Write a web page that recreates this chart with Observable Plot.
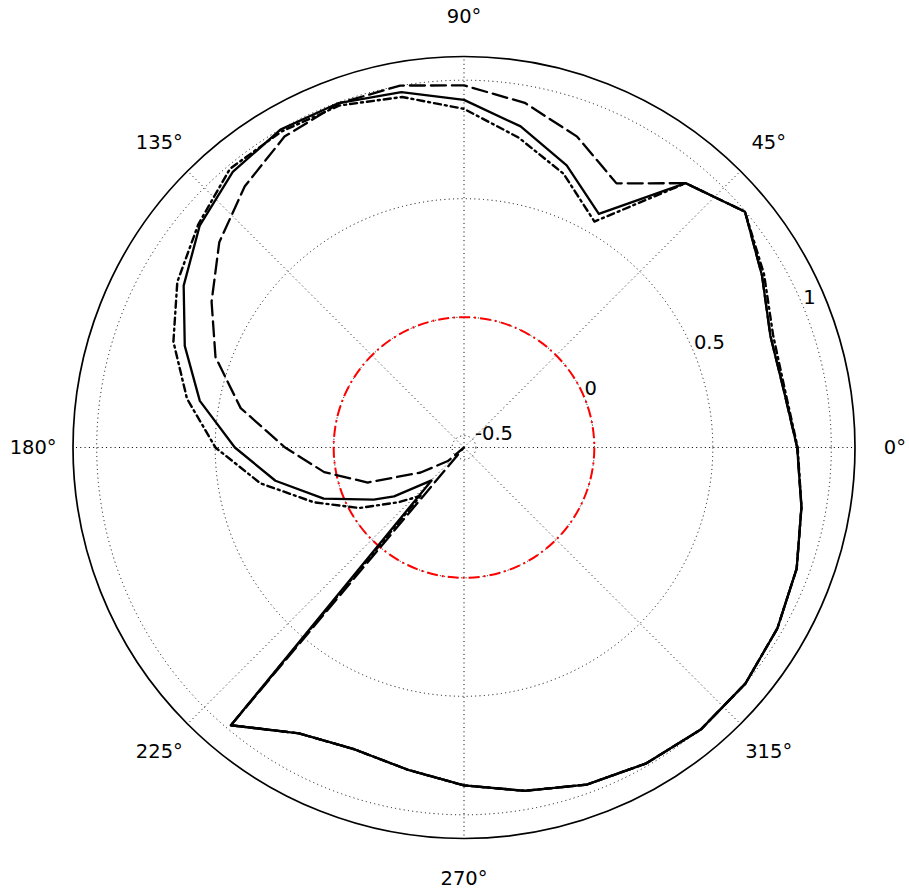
<!DOCTYPE html>
<html><head><meta charset="utf-8">
<script src="https://cdn.jsdelivr.net/npm/d3@7"></script>
<script src="https://cdn.jsdelivr.net/npm/@observablehq/plot@0.6"></script>
<style>html,body{margin:0;padding:0;background:#fff} svg{display:block}</style>
</head><body><div id="chart"></div>
<script>
// polar radial axis limits
const RMIN = -0.55, RMAX = 1.1;

// angular ticks and labels
const angleTicks = [0, 45, 90, 135, 180, 225, 270, 315];
const angleLabels = ["0°", "45°", "90°", "135°", "180°", "225°", "270°", "315°"];

// radial ticks and labels
const radialTicks = [-0.5, 0, 0.5, 1];
const radialLabels = ["-0.5", "0", "0.5", "1"];
const zeroLine = [0];

// series 1 (solid) — closed back to its first point
const thetaSolid = [230,240,250,260,270,280,290,300,310,320,330,340,350,0,10,20,30,40,50,60,70,80,90,100,110,120,130,140,150,160,170,180,190,200,210,215,225.4,230];
const rSolid = [0.980,0.843,0.805,0.830,0.876,0.921,0.964,0.989,1.004,1.000,0.977,0.944,0.896,0.856,0.821,0.826,0.902,0.998,0.906,0.588,0.717,0.826,0.917,0.973,0.997,0.999,0.968,0.906,0.816,0.704,0.582,0.417,0.258,0.080,-0.110,-0.190,-0.355,0.980];

// series 2 (dashed)
const thetaDashed = [230,240,250,260,270,280,290,300,310,320,330,340,350,0,10,20,30,40,50,60,70,80,90,100,110,120,130,140,150,160,170,180,190,200,210,220,226,230];
const rDashed = [0.980,0.843,0.805,0.830,0.876,0.921,0.964,0.989,1.004,1.000,0.977,0.944,0.896,0.856,0.821,0.826,0.902,0.998,0.906,0.737,0.846,0.927,0.978,1.001,0.995,0.965,0.889,0.798,0.680,0.566,0.407,0.205,0.049,-0.118,-0.339,-0.461,-0.55,0.980];

// series 3 (dash-dot)
const thetaDashDot = [230,240,250,260,270,280,290,300,310,320,330,340,350,0,10,20,30,40,50,60,70,80,90,100,110,120,130,140,150,160,170,180,190,200,210,220,228,230];
const rDashDot = [0.980,0.843,0.805,0.830,0.876,0.921,0.964,0.989,1.004,1.000,0.977,0.944,0.896,0.858,0.826,0.838,0.912,0.998,0.906,0.551,0.679,0.778,0.879,0.952,0.986,0.990,0.986,0.914,0.847,0.755,0.637,0.499,0.322,0.125,-0.039,-0.191,-0.276,0.980];

const rad = a => a * Math.PI / 180;
const px = (t, r) => (r - RMIN) * Math.cos(rad(t));
const py = (t, r) => (r - RMIN) * Math.sin(rad(t));
const rows = (th, rs) => th.map((t, i) => ({t, r: rs[i]}));
const SPAN = RMAX - RMIN;
const FONT = "DejaVu Sans";
const gridStyle = {stroke: "#000", strokeWidth: 1, strokeDasharray: "1,3.3", strokeOpacity: 1};

const chart = Plot.plot({
  width: 909,
  height: 894,
  marginLeft: 72.5,
  marginRight: 54.5,
  marginTop: 56,
  marginBottom: 56,
  x: {domain: [-SPAN, SPAN], axis: null},
  y: {domain: [-SPAN, SPAN], axis: null},
  r: {type: "linear", domain: [0, SPAN], range: [0, 391]},
  style: {fontFamily: FONT, background: "white"},
  marks: [
    Plot.link(angleTicks, {x1: () => 0, y1: () => 0, x2: t => px(t, RMAX), y2: t => py(t, RMAX), ...gridStyle}),
    Plot.dot(radialTicks, {x: () => 0, y: () => 0, r: v => v - RMIN, fill: "none", ...gridStyle}),
    Plot.dot(zeroLine, {x: () => 0, y: () => 0, r: v => v - RMIN, fill: "none", stroke: "#ff0000", strokeWidth: 2, strokeDasharray: "11,4,2,4"}),
    Plot.line(rows(thetaDashDot, rDashDot), {x: d => px(d.t, d.r), y: d => py(d.t, d.r), stroke: "black", strokeWidth: 2.4, strokeDasharray: "7,4,2,4", curve: "linear"}),
    Plot.line(rows(thetaDashed, rDashed), {x: d => px(d.t, d.r), y: d => py(d.t, d.r), stroke: "black", strokeWidth: 2.3, strokeDasharray: "15,6", curve: "linear"}),
    Plot.line(rows(thetaSolid, rSolid), {x: d => px(d.t, d.r), y: d => py(d.t, d.r), stroke: "black", strokeWidth: 2.3, curve: "linear"}),
    Plot.dot([RMAX], {x: () => 0, y: () => 0, r: v => v - RMIN, fill: "none", stroke: "black", strokeWidth: 1.7}),
    Plot.text(angleTicks, {x: t => 1.102 * SPAN * Math.cos(rad(t)), y: t => 1.102 * SPAN * Math.sin(rad(t)), text: (t, i) => angleLabels[i], fontSize: 19.5, fill: "black", fontFamily: FONT}),
    Plot.text(radialTicks, {x: v => px(22.5, v), y: v => py(22.5, v), text: (v, i) => radialLabels[i], textAnchor: "start", lineAnchor: "bottom", dy: -3, fontSize: 19.5, fill: "black", fontFamily: FONT})
  ]
});
document.getElementById("chart").appendChild(chart);
</script>
</body></html>
